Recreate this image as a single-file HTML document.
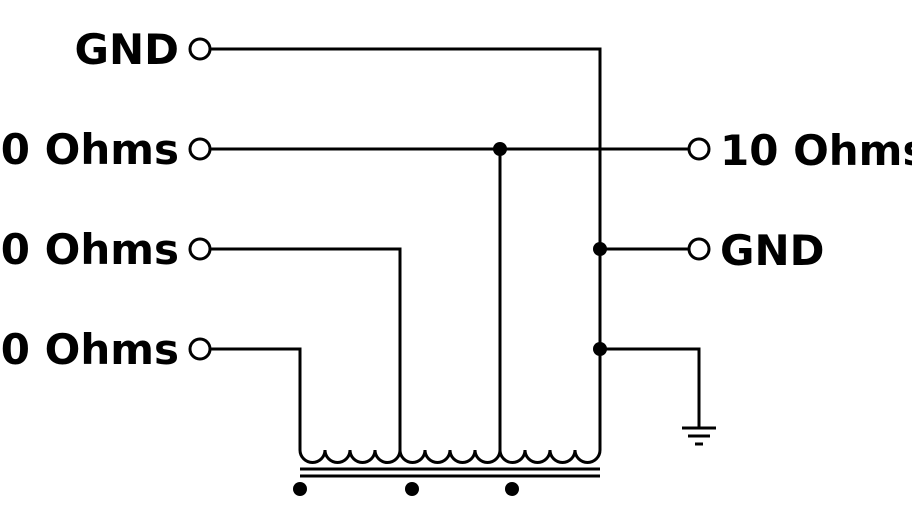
<!DOCTYPE html><html><head><style>body{margin:0;background:#fff}</style></head><body>
<svg width="912" height="512" xmlns="http://www.w3.org/2000/svg" style="display:block">
<g font-family="DejaVu Sans, sans-serif" font-weight="bold" font-size="42" fill="#000">
<text x="179" y="64" text-anchor="end">GND</text>
<text x="179" y="164" text-anchor="end">10 Ohms</text>
<text x="179" y="264" text-anchor="end">20 Ohms</text>
<text x="179" y="364" text-anchor="end">30 Ohms</text>
<text x="720" y="165">10 Ohms</text>
<text x="720" y="265">GND</text>
</g>
<g stroke="#000" stroke-width="3" fill="none">
<path d="M210 49H600V450"/>
<path d="M210 149H689"/>
<path d="M210 249H400V450"/>
<path d="M210 349H300V450"/>
<path d="M500 149V450"/>
<path d="M600 249H689"/>
<path d="M600 349H699V428"/>
<path d="M682 428H716M688 436H710M695 444H703"/>
<path d="M300 450 A12.5 12.5 0 0 0 325 450 A12.5 12.5 0 0 0 350 450 A12.5 12.5 0 0 0 375 450 A12.5 12.5 0 0 0 400 450 A12.5 12.5 0 0 0 425 450 A12.5 12.5 0 0 0 450 450 A12.5 12.5 0 0 0 475 450 A12.5 12.5 0 0 0 500 450 A12.5 12.5 0 0 0 525 450 A12.5 12.5 0 0 0 550 450 A12.5 12.5 0 0 0 575 450 A12.5 12.5 0 0 0 600 450"/>
<path d="M300 469H600M300 476H600"/>
<circle cx="200" cy="49" r="10" fill="#fff"/>
<circle cx="200" cy="149" r="10" fill="#fff"/>
<circle cx="200" cy="249" r="10" fill="#fff"/>
<circle cx="200" cy="349" r="10" fill="#fff"/>
<circle cx="699" cy="149" r="10" fill="#fff"/>
<circle cx="699" cy="249" r="10" fill="#fff"/>
</g>
<g fill="#000">
<circle cx="500" cy="149" r="7"/>
<circle cx="600" cy="249" r="7"/>
<circle cx="600" cy="349" r="7"/>
<circle cx="300" cy="489" r="7"/>
<circle cx="412" cy="489" r="7"/>
<circle cx="512" cy="489" r="7"/>
</g>
</svg>
</body></html>
